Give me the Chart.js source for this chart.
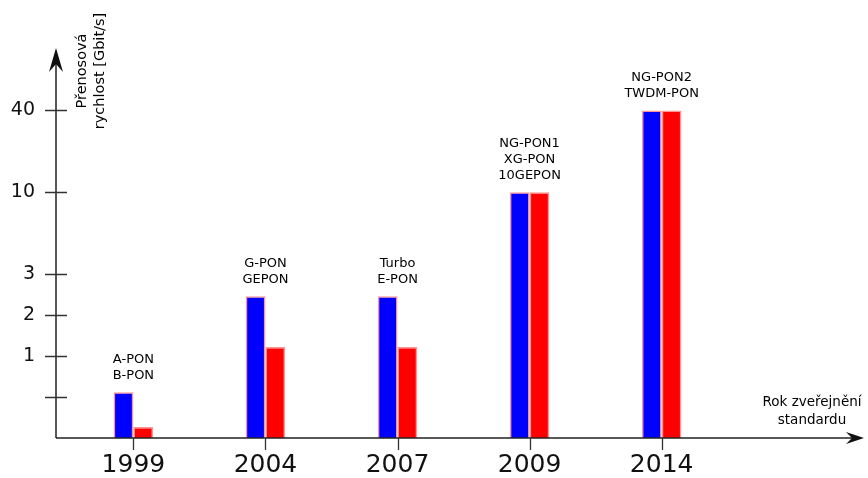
<!DOCTYPE html>
<html>
<head>
<meta charset="utf-8">
<script src="https://cdn.jsdelivr.net/npm/chart.js@4"></script>
<style>
  html, body { margin: 0; padding: 0; background: #fff; }
  #wrap { width: 868px; height: 478px; }
</style>
</head>
<body>
<div id="wrap"><canvas id="pon_chart"></canvas></div>
<script>
// years of the standards, shown under the x axis
var years = ['1999', '2004', '2007', '2009', '2014'];
var standards = [['A-PON', 'B-PON'], ['G-PON', 'GEPON'], ['Turbo', 'E-PON'], ['NG-PON1', 'XG-PON', '10GEPON'], ['NG-PON2', 'TWDM-PON']];
// bar heights in axis steps (the y axis is not linear, one step per tick)
var downstream = [1.12, 3.46, 3.46, 6, 8];
var upstream = [0.27, 2.22, 2.22, 6, 8];
// y ticks: step position and label
var tickSteps = [1, 2, 3, 4, 6, 8];
var tickLabels = ['', '1', '2', '3', '10', '40'];

var font = 'DejaVu Sans';

var axesPlugin = {
  id: 'axes',
  afterDraw: function(chart) {
    var ctx = chart.ctx;
    var xs = chart.scales.x, ys = chart.scales.y;
    var a = chart.chartArea;
    var x0 = a.left, y0 = a.bottom;
    ctx.save();
    ctx.strokeStyle = '#222';
    ctx.fillStyle = '#111';
    ctx.lineWidth = 1.5;
    // axis lines
    ctx.beginPath();
    ctx.moveTo(x0, y0); ctx.lineTo(x0, a.top + 6);
    ctx.moveTo(x0, y0); ctx.lineTo(a.right, y0);
    ctx.stroke();
    // arrow heads
    ctx.beginPath();
    ctx.moveTo(x0, a.top - 1); ctx.lineTo(x0 - 7, a.top + 23); ctx.lineTo(x0, a.top + 15); ctx.lineTo(x0 + 7, a.top + 23);
    ctx.closePath(); ctx.fill();
    ctx.beginPath();
    ctx.moveTo(a.right + 4, y0); ctx.lineTo(a.right - 14, y0 - 6); ctx.lineTo(a.right - 8, y0); ctx.lineTo(a.right - 14, y0 + 6);
    ctx.closePath(); ctx.fill();
    // y ticks across the axis
    ctx.lineWidth = 1.3;
    ctx.strokeStyle = '#333';
    ctx.beginPath();
    tickSteps.forEach(function(s) {
      var py = Math.round(ys.getPixelForValue(s)) + 0.5;
      ctx.moveTo(x0 - 11, py); ctx.lineTo(x0 + 11, py);
    });
    // x ticks below the axis
    years.forEach(function(y, i) {
      var px = Math.round(xs.getPixelForValue(i)) + 0.5;
      ctx.moveTo(px, y0); ctx.lineTo(px, y0 + 12);
    });
    ctx.stroke();
    // labels above the groups
    ctx.fillStyle = '#000';
    ctx.font = '13px "' + font + '"';
    ctx.textAlign = 'center';
    ctx.textBaseline = 'middle';
    standards.forEach(function(lines, i) {
      var px = xs.getPixelForValue(i);
      var top = ys.getPixelForValue(Math.max(downstream[i], upstream[i]));
      for (var k = 0; k < lines.length; k++) {
        ctx.fillText(lines[k], px, top - 17 - (lines.length - 1 - k) * 16);
      }
    });
    // x axis title
    ctx.font = '13.5px "' + font + '"';
    ctx.fillText('Rok zveřejnění', 812, 402);
    ctx.fillText('standardu', 812, 420);
    // y axis title, rotated
    ctx.font = '14.5px "' + font + '"';
    ctx.save();
    ctx.translate(82, 71);
    ctx.rotate(-Math.PI / 2);
    ctx.fillText('Přenosová', 0, 0);
    ctx.fillText('rychlost [Gbit/s]', 0, 18);
    ctx.restore();
    ctx.restore();
  }
};

var ctx = document.getElementById('pon_chart').getContext('2d');
var barChart = new Chart(ctx, {
  type: 'bar',
  data: {
    datasets: [{
      label: 'downstream',
      data: downstream.map(function(v, i) { return {x: i, y: v}; }),
      backgroundColor: '#0000ff',
      borderColor: 'rgba(255,120,120,0.8)',
      borderWidth: 1.5
    }, {
      label: 'upstream',
      data: upstream.map(function(v, i) { return {x: i, y: v}; }),
      backgroundColor: '#ff0000',
      borderColor: 'rgba(255,120,120,0.8)',
      borderWidth: 1.5
    }]
  },
  options: {
    responsive: true,
    maintainAspectRatio: false,
    animation: false,
    layout: { padding: { top: 49, right: 8, left: 0, bottom: 0 } },
    datasets: { bar: { barPercentage: 1, categoryPercentage: 0.3 } },
    plugins: { legend: { display: false }, tooltip: { enabled: false } },
    scales: {
      x: {
        type: 'linear',
        offset: false,
        min: -0.586,
        max: 5.502,
        grid: { display: false, drawTicks: false, offset: false },
        border: { display: false },
        afterBuildTicks: function(scale) {
          scale.ticks = years.map(function(y, i) { return {value: i}; });
        },
        afterFit: function(scale) { scale.height = 40; },
        ticks: {
          padding: 12,
          color: '#111',
          font: { family: font, size: 25 },
          maxRotation: 0,
          autoSkip: false,
          callback: function(v) { return years[v]; }
        }
      },
      y: {
        min: 0,
        max: 9.5,
        grid: { display: false, drawTicks: false },
        border: { display: false },
        afterBuildTicks: function(scale) {
          scale.ticks = tickSteps.map(function(s) { return {value: s}; });
        },
        afterFit: function(scale) { scale.width = 56; },
        ticks: {
          padding: 21,
          color: '#111',
          font: { family: font, size: 19 },
          autoSkip: false,
          callback: function(v) { return tickLabels[tickSteps.indexOf(v)]; }
        }
      }
    }
  },
  plugins: [axesPlugin]
});
</script>
</body>
</html>
